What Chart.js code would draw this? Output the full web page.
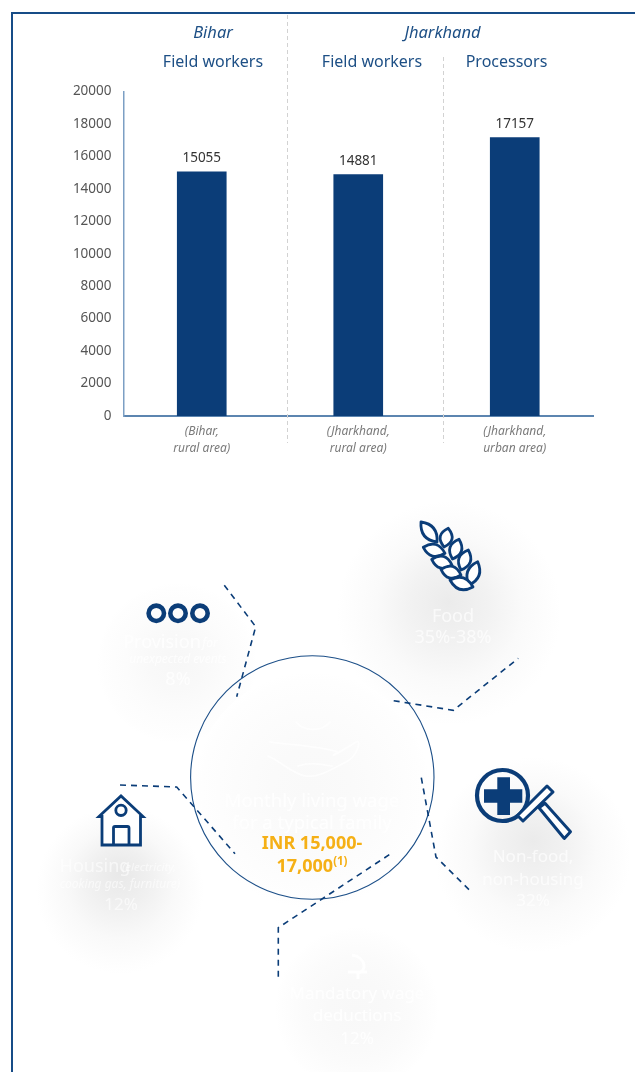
<!DOCTYPE html>
<html>
<head>
<meta charset="utf-8">
<title>Living wage estimates</title>
<script src="https://cdn.jsdelivr.net/npm/chart.js@4"></script>
<style>
  html, body { margin: 0; padding: 0; background: #fff; }
  body { position: relative; width: 635px; height: 1072px; overflow: hidden; font-family: "Open Sans", sans-serif; }
  #frame { position: absolute; left: 11px; top: 12px; width: 640px; height: 1100px; border: 2px solid #174c87; box-sizing: border-box; }
  #wages { position: absolute; left: 0; top: 0; }
  #lower { position: absolute; left: 0; top: 0; }
  .ghost { fill: #fff; text-anchor: middle; dominant-baseline: central; }
</style>
</head>
<body>
<div id="frame"></div>
<canvas id="wages" width="635" height="470"></canvas>
<svg id="lower" width="635" height="1072" xmlns="http://www.w3.org/2000/svg"></svg>
<script>
// Wage data per worker group
const categories = [["(Bihar,", "rural area)"], ["(Jharkhand,", "rural area)"], ["(Jharkhand,", "urban area)"]];
const wages = [15055, 14881, 17157];
const regionHeaders = ["Bihar", "Jharkhand"];
const workerHeaders = ["Field workers", "Field workers", "Processors"];
const axisMax = 20000;
const axisStep = 2000;

const NAVY = "#0b3d78";
const LABEL_FONT = '"Noto Sans", sans-serif';

// Headings, separators and value labels sit on the same canvas as the bars
const annotations = {
  id: "annotations",
  afterDatasetsDraw(chart) {
    const { ctx } = chart;
    const bars = chart.getDatasetMeta(0).data;
    ctx.save();
    ctx.textAlign = "center";
    ctx.textBaseline = "middle";
    ctx.fillStyle = "#333";
    ctx.font = "13.5px " + LABEL_FONT;
    bars.forEach((bar, i) => ctx.fillText(String(wages[i]), bar.x, bar.y - 13.5));

    ctx.fillStyle = "#1d4f85";
    ctx.font = "italic 16.5px " + LABEL_FONT;
    ctx.fillText(regionHeaders[0], 213, 33);
    ctx.fillText(regionHeaders[1], 442.5, 33);
    ctx.font = "16px " + LABEL_FONT;
    ctx.fillText(workerHeaders[0], 213, 62.5);
    ctx.fillText(workerHeaders[1], 372, 62.5);
    ctx.fillText(workerHeaders[2], 506.5, 62.5);

    ctx.strokeStyle = "#d2d2d2";
    ctx.lineWidth = 1;
    ctx.setLineDash([4, 3]);
    [[287.5, 15, 443], [443.5, 57, 443]].forEach(([x, y0, y1]) => {
      ctx.beginPath();
      ctx.moveTo(x, y0);
      ctx.lineTo(x, y1);
      ctx.stroke();
    });
    ctx.restore();
  }
};

new Chart(document.getElementById("wages"), {
  type: "bar",
  data: {
    labels: categories,
    datasets: [{ data: wages, backgroundColor: NAVY, barThickness: 49 }]
  },
  plugins: [annotations],
  options: {
    responsive: false,
    animation: false,
    devicePixelRatio: 1,
    layout: { padding: { left: 40, right: 42, top: 91.5, bottom: 0 } },
    plugins: { legend: { display: false }, tooltip: { enabled: false }, title: { display: false } },
    scales: {
      x: {
        afterFit(scale) { scale.height = 54; },
        grid: { display: false, drawTicks: false },
        border: { color: "#5c85b0", width: 2 },
        ticks: {
          color: "#7a7a7a",
          font: { family: LABEL_FONT, size: 12, style: "italic", lineHeight: 1.4 },
          padding: 7,
          maxRotation: 0
        }
      },
      y: {
        min: 0,
        max: axisMax,
        afterFit(scale) { scale.width = 83.5; },
        grid: { display: false, drawTicks: false },
        border: { color: "#7c9fc4", width: 1.5 },
        ticks: {
          stepSize: axisStep,
          color: "#555",
          font: { family: LABEL_FONT, size: 13.5 },
          padding: 12,
          callback: value => String(value)
        }
      }
    }
  }
});

// Lower infographic: cost components around the living wage circle
const SVG_NS = "http://www.w3.org/2000/svg";
const svg = document.getElementById("lower");

function el(name, attrs, parent, text) {
  const node = document.createElementNS(SVG_NS, name);
  Object.entries(attrs).forEach(([k, v]) => node.setAttribute(k, v));
  if (text !== undefined) node.textContent = text;
  (parent || svg).appendChild(node);
  return node;
}

// Soft grey discs behind each component: core, shoulder, wide pale plateau, white rim
const defs = el("defs", {});
const halos = [
  { id: "h1", cx: 177, cy: 663, r: 80, fy: 660, stops: ["#f7f7f7", "#f9f9f9", "#fcfcfc", "#fefefe"] },
  { id: "h2", cx: 449, cy: 613, r: 112, fy: 602, stops: ["#ebebeb", "#f2f2f2", "#fafafa", "#fefefe"] },
  { id: "h3", cx: 312, cy: 790, r: 118, fy: 790, stops: ["#f9f9f9", "#fafafa", "#fcfcfc", "#fefefe"] },
  { id: "h4", cx: 120, cy: 890, r: 84, fy: 872, stops: ["#e8e8e8", "#f0f0f0", "#f9f9f9", "#fefefe"] },
  { id: "h5", cx: 533, cy: 855, r: 98, fy: 840, stops: ["#ebebeb", "#f2f2f2", "#fafafa", "#fefefe"] },
  { id: "h6", cx: 357, cy: 1009, r: 82, fy: 1009, stops: ["#f8f8f8", "#f9f9f9", "#fbfbfb", "#fefefe"] }
];
halos.forEach(h => {
  const g = el("radialGradient", { id: h.id, gradientUnits: "userSpaceOnUse", cx: h.cx, cy: h.cy, r: h.r, fx: h.cx, fy: h.fy }, defs);
  [0, 0.35, 0.65, 0.93].forEach((offset, i) => el("stop", { offset, "stop-color": h.stops[i] }, g));
  el("stop", { offset: 1, "stop-color": "#ffffff" }, g);
  el("circle", { cx: h.cx, cy: h.cy, r: h.r, fill: "url(#" + h.id + ")" });
});

// Pale lettering over the halos
const ghostLines = [
  ["Provision", 162, 641, 18, "normal", 0.8], ["for", 210, 642, 12, "italic", 0.8],
  ["unexpected events", 178, 658, 12, "italic", 0.8], ["8%", 178, 678, 18, "normal", 0.8],
  ["Food", 453, 615, 18, "normal", 0.7], ["35%-38%", 453, 636, 18, "normal", 0.7],
  ["Monthly living wage", 312, 799, 18.5, "normal", 0.9], ["for a typical family", 312, 821, 18.5, "normal", 0.9],
  ["Housing", 95, 865, 18, "normal", 0.6], ["(electricity,", 149, 866, 11.5, "italic", 0.6],
  ["cooking gas, furniture)", 120, 883, 12, "italic", 0.6], ["12%", 121, 903, 17, "normal", 0.6],
  ["Non-food,", 533, 855, 17, "normal", 0.7], ["non-housing", 533, 878, 17, "normal", 0.7], ["32%", 533, 899, 17, "normal", 0.7],
  ["Mandatory wage", 357, 992, 17, "normal", 0.9], ["deductions", 357, 1014, 17, "normal", 0.9], ["12%", 357, 1037, 17, "normal", 0.9]
];
ghostLines.forEach(([t, x, y, size, style, op]) => {
  el("text", { x, y, class: "ghost", "font-size": size, "font-style": style, opacity: op, "font-family": '"Noto Sans", sans-serif' }, svg, t);
});

// Faint hands above the central caption and a small emblem above deductions
const faint = el("g", { fill: "none", stroke: "#fff", "stroke-width": 1.6, "stroke-linecap": "round", opacity: 0.8 });
el("path", { d: "M270 742 C290 745 320 746 338 752 C326 760 340 752 356 742 C362 738 358 756 346 762 C330 770 318 778 306 776 C292 774 282 762 268 756" }, faint);
el("path", { d: "M298 766 C310 762 320 764 332 766" }, faint);
el("path", { d: "M296 722 C304 732 322 732 330 722" }, faint);
const emblem = el("g", { fill: "none", stroke: "#fff", "stroke-width": 3, opacity: 0.9 });
el("path", { d: "M352 955 C366 957 368 972 357 973 M348 972 H367 M358 972 V979" }, emblem);

// Main circle
el("circle", { cx: 312.3, cy: 777.5, r: 121.7, fill: "none", stroke: "#1c4f88", "stroke-width": 1.1 });

// Dashed leaders running from each component towards the circle
const leaders = [
  [[224.3, 585.3], [255.7, 626.7], [236.7, 696.7]],
  [[393.7, 700.7], [453.3, 710.3], [518.3, 658.3]],
  [[421.3, 777.7], [436, 857], [470.7, 891.3]],
  [[389.3, 854.7], [278.3, 927.7], [278.3, 977]],
  [[120, 785], [176.7, 787], [235, 853.7]]
];
leaders.forEach(pts => {
  el("polyline", { points: pts.map(p => p.join(",")).join(" "), fill: "none", stroke: NAVY, "stroke-width": 1.6, "stroke-dasharray": "6 5" });
});

// Gold wage figure
const goldAttrs = { x: 312, fill: "#f5b016", "font-size": 18, "font-weight": 700, "text-anchor": "middle", "dominant-baseline": "central", "font-family": '"Noto Sans", sans-serif' };
el("text", { ...goldAttrs, y: 842 }, svg, "INR 15,000-");
const wageLine2 = el("text", { ...goldAttrs, y: 865 }, svg, "17,000");
el("tspan", { dy: -5, "font-size": 11.5 }, wageLine2, "(1)");

// Three rings icon
const rings = el("g", { fill: "none", stroke: NAVY, "stroke-width": 4.6 });
[156.3, 178, 200].forEach(cx => el("circle", { cx, cy: 613.3, r: 7.7 }, rings));

// Wheat ear icon built from leaf outlines
function leaf(tip, base, bulge, parent) {
  const mx = (tip[0] + base[0]) / 2, my = (tip[1] + base[1]) / 2;
  const dx = base[0] - tip[0], dy = base[1] - tip[1];
  const len = Math.hypot(dx, dy), nx = -dy / len * bulge, ny = dx / len * bulge;
  el("path", { d: `M${tip} Q${mx + nx},${my + ny} ${base} Q${mx - nx},${my - ny} ${tip}Z` }, parent);
}
const wheat = el("g", { fill: "#fff", stroke: NAVY, "stroke-width": 2.8, "stroke-linejoin": "round" });
const leafPairs = [
  [[421, 522], [437, 542]],
  [[448.3, 528.3], [444, 547]],
  [[459, 539.3], [452.5, 559]],
  [[468.3, 550], [461, 570]],
  [[477.7, 561.7], [469, 585]],
  [[423.3, 547.3], [445, 553.3]],
  [[431.7, 559.3], [452, 565]],
  [[441, 569.3], [461, 575]],
  [[450, 580], [473, 587]]
];
leafPairs.forEach(([tip, base]) => leaf(tip, base, 12, wheat));

// House icon
const house = el("g", { fill: "none", stroke: NAVY, "stroke-width": 2.8, "stroke-linejoin": "miter" });
el("path", { d: "M99 816.5 L121 796 L143 816.5 H140.5 V845 H102 V816.5 Z", fill: "#fff" }, house);
el("path", { d: "M113.5 845 V828 Q113.5 826.5 115 826.5 H127.5 Q129 826.5 129 828 V845" }, house);
el("circle", { cx: 121, cy: 810.3, r: 5.2 }, house);

// Magnifier with medical cross
const lens = el("g", { stroke: NAVY, "stroke-linejoin": "round" });
el("circle", { cx: 502.5, cy: 795.5, r: 25.5, fill: "none", "stroke-width": 4.2 }, lens);
el("path", { d: "M484 789.3 H497.3 V777.3 H510 V789.3 H522.3 V802.7 H510 V815 H497.3 V802.7 H484 Z", fill: NAVY, stroke: "none" }, lens);
el("path", { d: "M539 807.7 L545 803.3 L570.5 831.7 L564.3 838.5 Z", fill: "#fff", "stroke-width": 3 }, lens);
el("path", { d: "M517.5 815.5 L547 786 L553 792 L523 821 Z", fill: "#fff", "stroke-width": 3 }, lens);
</script>
</body>
</html>
